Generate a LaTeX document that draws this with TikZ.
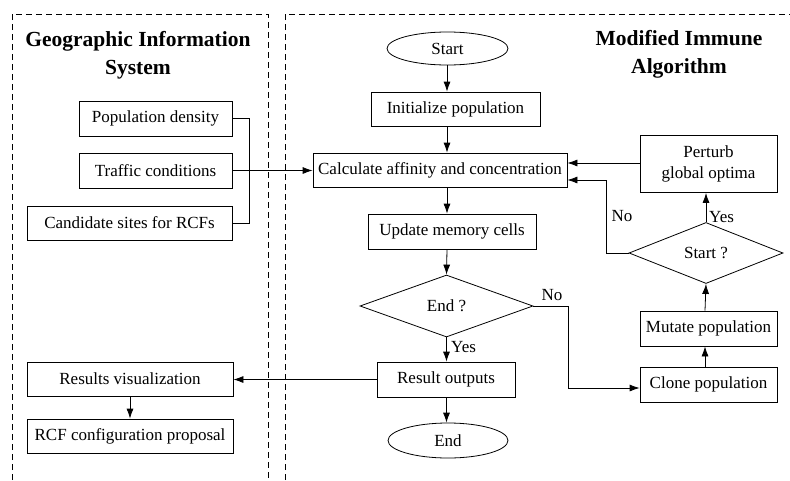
\documentclass[tikz,border=0pt]{standalone}
\usepackage{fontspec}
\setmainfont{Liberation Serif}
\usetikzlibrary{shapes.geometric,arrows.meta}
\tikzset{
  txt/.style={font=\fontsize{17}{21}\selectfont, inner sep=0pt},
  box/.style={txt, draw, line width=0.8pt, rectangle},
  oval/.style={txt, draw, line width=0.8pt, ellipse},
  decide/.style={txt, draw, line width=0.8pt, diamond},
  frame/.style={line width=0.8pt, dash pattern=on 6pt off 4pt},
  ttl/.style={font=\bfseries\fontsize{21.5}{28}\selectfont, align=center, inner sep=0pt},
  conn/.style={line width=0.8pt},
  arr/.style={conn, -{Latex[length=10pt,width=7pt]}},
  lbl/.style={font=\fontsize{17}{21}\selectfont, inner sep=0pt}
}
\begin{document}
\begin{tikzpicture}[x=1pt,y=-1pt]
\clip (0,0) rectangle (790,480);
\fill[white] (0,0) rectangle (790,480);
% frames
\draw[frame] (12,490) -- (12,14) -- (268,14) -- (268,490);
\draw[frame] (285,490) -- (285,14) -- (800,14);
\node[ttl] (gistitle) at (138,55) {Geographic Information\\System};
\node[ttl] (miatitle) at (679,54) {Modified Immune\\Algorithm};
% GIS nodes
\node[box, minimum width=153pt, minimum height=35pt] (pd) at (155.5,118.5) {Population density};
\node[box, minimum width=153pt, minimum height=35pt] (tc) at (155.5,170.5) {Traffic conditions};
\node[box, minimum width=205pt, minimum height=34pt] (cs) at (129.5,223) {Candidate sites for RCFs};
\node[box, minimum width=206pt, minimum height=34pt] (rv) at (130,379) {Results visualization};
\node[box, minimum width=206pt, minimum height=34pt] (rcf) at (130,436) {RCF configuration proposal};
% MIA nodes
\node[oval, minimum width=121pt, minimum height=33pt] (start) at (447.5,48.5) {Start};
\node[box, minimum width=169pt, minimum height=34pt] (init) at (455.5,109) {Initialize population};
\node[box, minimum width=254pt, minimum height=34pt] (calc) at (440,170) {Calculate affinity and concentration};
\node[box, minimum width=168pt, minimum height=35pt] (upd) at (452,231.5) {Update memory cells};
\node[decide, minimum width=173pt, minimum height=62pt] (endq) at (446.5,306) {End ?};
\node[box, minimum width=138pt, minimum height=35pt] (res) at (446,379.5) {Result outputs};
\node[oval, minimum width=120pt, minimum height=35pt] (endn) at (448,440.5) {End};
\node[box, minimum width=137pt, minimum height=57pt, align=center] (pert) at (708.5,164) {Perturb\\global optima};
\node[decide, minimum width=154pt, minimum height=61pt] (startq) at (706,253) {Start ?};
\node[box, minimum width=137pt, minimum height=35pt] (mut) at (708.5,328.5) {Mutate population};
\node[box, minimum width=137pt, minimum height=35pt] (clone) at (708.5,384.5) {Clone population};
% axes
\coordinate (ax) at (447,0);
\coordinate (bx) at (705,0);
\coordinate (jx) at (249,0);
% GIS bracket
\draw[conn] (pd.east) -- (pd.east -| jx) -- (cs.east -| jx) -- (cs.east);
\draw[arr] (tc.east) -- (tc.east -| calc.west);
% main column
\draw[arr] (ax |- start.south) -- (ax |- init.north);
\draw[arr] (ax |- init.south) -- (ax |- calc.north);
\draw[arr] (ax |- calc.south) -- (ax |- upd.north);
\draw[arr] (ax |- upd.south) -- (endq.north);
\draw[arr] (endq.south) -- (endq.south |- res.north);
\draw[arr] (endq.south |- res.south) -- (endq.south |- endn.north);
\node[lbl, anchor=west] (yes1) at (451,347) {Yes};
\draw[arr] (res.west) -- (res.west -| rv.east);
\draw[arr] (rv.south) -- (rcf.north);
% No branch
\coordinate (nb) at (568,388);
\draw[arr] (endq.east) -- (endq.east -| nb) -- (nb) -- (nb -| clone.west);
\node[lbl] (no1) at (552,295) {No};
% right column
\draw[arr] (bx |- clone.north) -- (bx |- mut.south);
\draw[arr] (bx |- mut.north) -- (startq.south);
\draw[arr] (startq.north) -- (startq.north |- pert.south);
\node[lbl, anchor=west] (yes2) at (709,217) {Yes};
\draw[arr] (pert.west |- 0,163) -- (calc.east |- 0,163);
\coordinate (nc) at (606,180);
\draw[arr] (startq.west) -- (startq.west -| nc) -- (nc) -- (nc -| calc.east);
\node[lbl] (no2) at (622,216) {No};
\end{tikzpicture}
\end{document}
